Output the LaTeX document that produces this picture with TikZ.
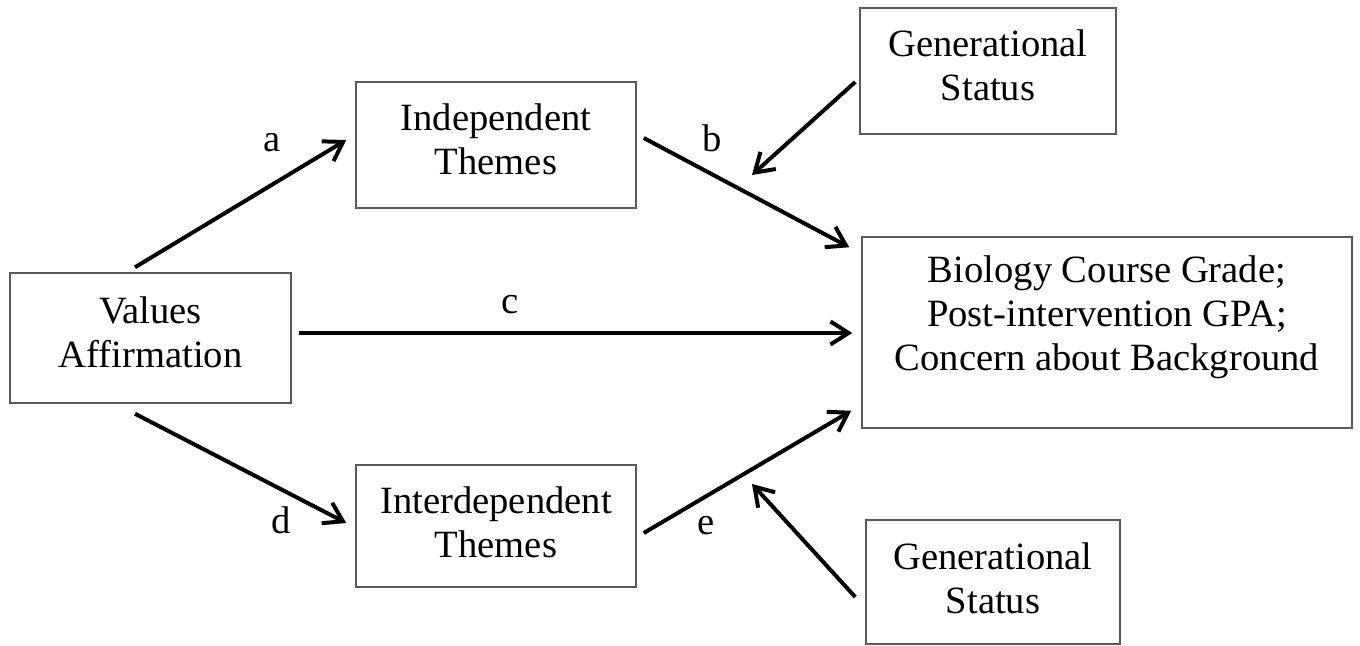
\documentclass[tikz,border=0pt]{standalone}
\usepackage{fontspec}
\setmainfont{Liberation Serif}
\usetikzlibrary{arrows.meta,calc}

\tikzset{
  varbox/.style = {draw=black!65, line width=0.75pt, align=center,
                   inner sep=0pt, font=\fontsize{19.3}{22}\selectfont},
  path/.style   = {line width=2pt, -{Straight Barb[length=9pt,width=11.5pt]}},
  plab/.style   = {font=\fontsize{19.3}{22}\selectfont, inner sep=0pt}
}

\begin{document}
\begin{tikzpicture}[x=0.5pt,y=-0.5pt]
\useasboundingbox (0,0) rectangle (1360,646);

%boxes
\node[varbox, minimum width=140.5pt, minimum height=65pt] (va)  at (150.5,338) {Values\\Affirmation\\[-16pt]};
\node[varbox, minimum width=140pt, minimum height=63pt]   (ind) at (496,145)   {Independent\\Themes\\[-16pt]};
\node[varbox, minimum width=140pt, minimum height=61pt]   (inter) at (496,526) {Interdependent\\Themes\\[-18pt]};
\node[varbox, minimum width=245pt, minimum height=95.5pt] (out) at (1107,332.5)
  {Biology Course Grade;\\Post-intervention GPA;\\Concern about Background\\[-3pt]};
\node[varbox, minimum width=128pt, minimum height=63pt]   (gentop) at (988,71)  {Generational\\Status\\[-16pt]};
\node[varbox, minimum width=127pt, minimum height=62pt]   (genbot) at (993,582) {Generational\\Status\\[-18pt]};

\coordinate (modb) at (752,175);
\coordinate (mode) at (752,484);

%paths
\draw[path] ($(va.north)+(-15.5,-5)$) -- ($(ind.west)+(-9,-5)$);
\draw[path] ($(ind.east)+(7,-7)$) -- ($(out.north west)+(-12,11)$);
\draw[path] ($(va.east)+(7,-5)$) -- ($(out.west)+(-9,0.5)$);
\draw[path] ($(va.south)+(-15.5,10)$) -- ($(inter.west)+(-9,-3)$);
\draw[path] ($(inter.east)+(7,7)$) -- ($(out.south west)+(-10,-18)$);
\draw[path] ($(gentop.west)+(-4,11)$) -- (modb);
\draw[path] ($(genbot.west)+(-10,15)$) -- (mode);

%labels
\node[plab] (la) at (272,143) {a};
\node[plab] (lb) at (712,138) {b};
\node[plab] (lc) at (510,305) {c};
\node[plab] (ld) at (281,520) {d};
\node[plab] (le) at (706,526) {e};
\end{tikzpicture}
\end{document}
